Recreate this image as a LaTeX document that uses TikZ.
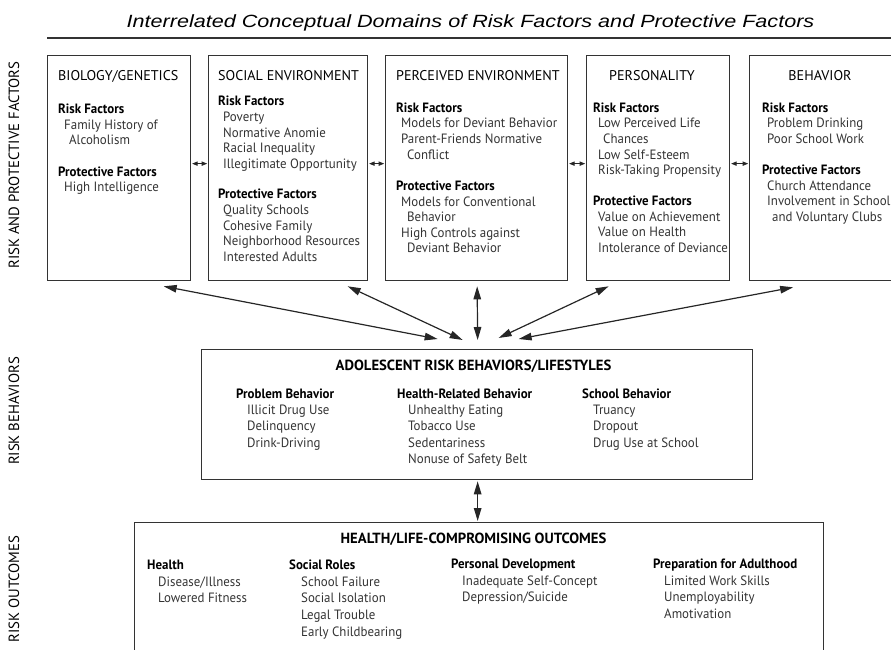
\documentclass[tikz,border=0pt]{standalone}
\usepackage{fontspec}
\setmainfont{PT Sans}[FakeStretch=0.955]
\newfontfamily\capsfont{PT Sans}
\newfontfamily\titlefont{Liberation Sans}[FakeStretch=1.22]
\usetikzlibrary{arrows.meta,calc}

\begin{document}
\begin{tikzpicture}[x=1pt,y=-1pt,
  box/.style={draw=black!80, line width=1.3pt, inner sep=0pt, anchor=north west},
  txt/.style={anchor=base west, inner sep=0pt, font=\fontsize{13.5}{16}\selectfont},
  it/.style={txt, text=black!80},
  hd/.style={anchor=base west, inner sep=0pt, font=\capsfont\fontsize{14.1}{16}\selectfont, text=black},
  sec/.style={txt, font=\fontsize{13.5}{16}\selectfont\bfseries, text=black},
  bighd/.style={anchor=base, inner sep=0pt, font=\capsfont\fontsize{14.7}{17}\selectfont\bfseries},
  side/.style={rotate=90, inner sep=0pt, font=\capsfont\fontsize{14.8}{17}\selectfont},
  big/.style={draw=black!85, line width=1.2pt,
    {Triangle[length=13pt,width=7.5pt]}-{Triangle[length=13pt,width=7.5pt]}},
  small/.style={draw=black!85, line width=0.9pt, shorten <=0.8pt, shorten >=0.8pt,
    {Triangle[length=5.5pt,width=4.2pt]}-{Triangle[length=5.5pt,width=4.2pt]}}
]
\useasboundingbox (0,0) rectangle (891,650);
\clip (0,0) rectangle (891,650);

% title and rule
\node[anchor=base, inner sep=0pt, font=\titlefont\itshape\fontsize{17.7}{20}\selectfont] (title) at (470.5,27.5)
  {Interrelated Conceptual Domains of Risk Factors and Protective Factors};
\draw[draw=black!80, line width=1.6pt] (47,38) -- (891,38);

% side labels
\node[side] (lab1) at (14,165) {RISK AND PROTECTIVE FACTORS};
\node[side] (lab2) at (14,411) {RISK BEHAVIORS};
\node[side] (lab3) at (14,589) {RISK OUTCOMES};

% domain boxes
\node[box, minimum width=143pt, minimum height=225pt] (b1) at (47,55) {};
\node[box, minimum width=159pt, minimum height=225pt] (b2) at (208,55) {};
\node[box, minimum width=182pt, minimum height=225pt] (b3) at (385,55) {};
\node[box, minimum width=143pt, minimum height=225pt] (b4) at (586,55) {};
\node[box, minimum width=142pt, minimum height=225pt] (b5) at (749,55) {};

% biology / genetics
\node[hd] (b1h) at (58,80.5) {BIOLOGY/GENETICS};
\node[sec] (b1r) at (58,113.5) {Risk Factors};
\node[it] (b1r1) at (64,129.5) {Family History of};
\node[it] (b1r2) at (69,144.5) {Alcoholism};
\node[sec] (b1p) at (58,176.5) {Protective Factors};
\node[it] (b1p1) at (64,191.5) {High Intelligence};

% social environment
\node[hd] (b2h) at (218,80.5) {SOCIAL ENVIRONMENT};
\node[sec] (b2r) at (218,105.5) {Risk Factors};
\node[it] (b2r1) at (223,121.5) {Poverty};
\node[it] (b2r2) at (223,137) {Normative Anomie};
\node[it] (b2r3) at (223,152.5) {Racial Inequality};
\node[it] (b2r4) at (223,168) {Illegitimate Opportunity};
\node[sec] (b2p) at (218,198.5) {Protective Factors};
\node[it] (b2p1) at (223,214.5) {Quality Schools};
\node[it] (b2p2) at (223,230) {Cohesive Family};
\node[it] (b2p3) at (223,245.5) {Neighborhood Resources};
\node[it] (b2p4) at (223,261) {Interested Adults};

% perceived environment
\node[hd] (b3h) at (396,80.5) {PERCEIVED ENVIRONMENT};
\node[sec] (b3r) at (396,112.5) {Risk Factors};
\node[it] (b3r1) at (401,128) {Models for Deviant Behavior};
\node[it] (b3r2) at (401,143.5) {Parent-Friends Normative};
\node[it] (b3r3) at (407,159) {Conflict};
\node[sec] (b3p) at (396,190.5) {Protective Factors};
\node[it] (b3p1) at (401,206) {Models for Conventional};
\node[it] (b3p2) at (407,221.5) {Behavior};
\node[it] (b3p3) at (401,237) {High Controls against};
\node[it] (b3p4) at (407,252.5) {Deviant Behavior};

% personality
\node[hd, anchor=base] (b4h) at (652,80.5) {PERSONALITY};
\node[sec] (b4r) at (593,112.5) {Risk Factors};
\node[it] (b4r1) at (598,128) {Low Perceived Life};
\node[it] (b4r2) at (603,143.5) {Chances};
\node[it] (b4r3) at (598,159) {Low Self-Esteem};
\node[it] (b4r4) at (598,174.5) {Risk-Taking Propensity};
\node[sec] (b4p) at (593,205.5) {Protective Factors};
\node[it] (b4p1) at (598,221) {Value on Achievement};
\node[it] (b4p2) at (598,236.5) {Value on Health};
\node[it] (b4p3) at (598,252) {Intolerance of Deviance};

% behavior
\node[hd, anchor=base] (b5h) at (820,80.5) {BEHAVIOR};
\node[sec] (b5r) at (762,112.5) {Risk Factors};
\node[it] (b5r1) at (767,128) {Problem Drinking};
\node[it] (b5r2) at (767,143.5) {Poor School Work};
\node[sec] (b5p) at (762,174.5) {Protective Factors};
\node[it] (b5p1) at (767,190) {Church Attendance};
\node[it] (b5p2) at (767,205.5) {Involvement in School};
\node[it] (b5p3) at (772,221) {and Voluntary Clubs};

% links between neighbouring domains
\draw[small] ([yshift=4.5pt]b1.east) -- ([yshift=4.5pt]b2.west);
\draw[small] ([yshift=4.5pt]b2.east) -- ([yshift=4.5pt]b3.west);
\draw[small] ([yshift=4.5pt]b3.east) -- ([yshift=4.5pt]b4.west);
\draw[small] ([yshift=4.5pt]b4.east) -- ([yshift=4.5pt]b5.west);

% adolescent risk behaviors
\node[box, minimum width=551pt, minimum height=130pt] (mid) at (201,349) {};
\node[bighd] (midh) at (473.5,370.5) {ADOLESCENT RISK BEHAVIORS/LIFESTYLES};
\node[sec] (m1) at (236,398.5) {Problem Behavior};
\node[it] (m11) at (247,414.5) {Illicit Drug Use};
\node[it] (m12) at (247,430.8) {Delinquency};
\node[it] (m13) at (247,447.1) {Drink-Driving};
\node[sec] (m2) at (397,398.5) {Health-Related Behavior};
\node[it] (m21) at (408,414.5) {Unhealthy Eating};
\node[it] (m22) at (408,430.8) {Tobacco Use};
\node[it] (m23) at (408,447.1) {Sedentariness};
\node[it] (m24) at (408,463.4) {Nonuse of Safety Belt};
\node[sec] (m3) at (582,398.5) {School Behavior};
\node[it] (m31) at (593,414.5) {Truancy};
\node[it] (m32) at (593,430.8) {Dropout};
\node[it] (m33) at (593,447.1) {Drug Use at School};

% domains to behaviours
\draw[big] ($(b1.south)+(44.5,5)$) -- ($(mid.north)+(-39.5,-10)$);
\draw[big] ($(b2.south)+(59.5,5)$) -- ($(mid.north)+(-14.5,-9)$);
\draw[big] ($(b3.south)+(0.5,5)$) -- ($(mid.north)+(0.5,-9)$);
\draw[big] ($(b4.south)+(-49.5,5)$) -- ($(mid.north)+(21.5,-11)$);
\draw[big] ($(b5.south)+(-27.5,6)$) -- ($(mid.north)+(41.5,-10)$);

% health / life-compromising outcomes
\node[box, minimum width=689pt, minimum height=178pt] (bot) at (134,522) {};
\node[bighd] (both) at (473.5,543.5) {HEALTH/LIFE-COMPROMISING OUTCOMES};
\node[sec] (o1) at (147,569.5) {Health};
\node[it] (o11) at (158,586.5) {Disease/Illness};
\node[it] (o12) at (158,602.5) {Lowered Fitness};
\node[sec] (o2) at (289,569.5) {Social Roles};
\node[it] (o21) at (301,586.5) {School Failure};
\node[it] (o22) at (301,602.5) {Social Isolation};
\node[it] (o23) at (301,619.5) {Legal Trouble};
\node[it] (o24) at (301,636.5) {Early Childbearing};
\node[sec] (o3) at (451,568.5) {Personal Development};
\node[it] (o31) at (462,585.5) {Inadequate Self-Concept};
\node[it] (o32) at (462,601.5) {Depression/Suicide};
\node[sec] (o4) at (653,568.5) {Preparation for Adulthood};
\node[it] (o41) at (664,585.5) {Limited Work Skills};
\node[it] (o42) at (664,601.5) {Unemployability};
\node[it] (o43) at (664,618) {Amotivation};

% behaviours to outcomes
\draw[big, shorten <=1pt, shorten >=1pt] ([xshift=0.5pt]mid.south) -- ([xshift=-1.5pt]bot.north);
\end{tikzpicture}
\end{document}
